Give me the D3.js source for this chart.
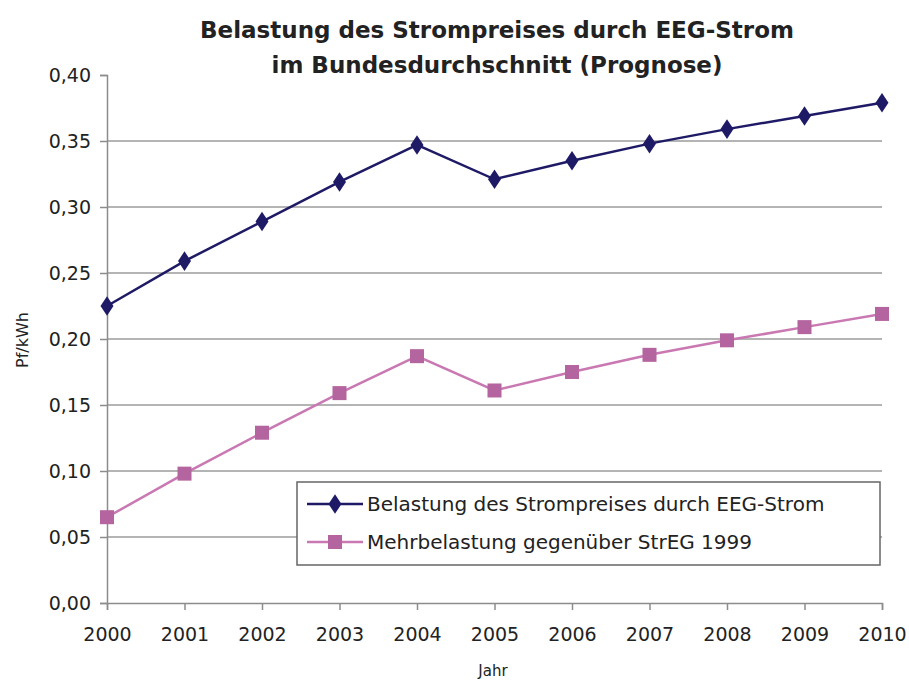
<!DOCTYPE html>
<html>
<head>
<meta charset="utf-8">
<script src="https://cdn.jsdelivr.net/npm/d3@7"></script>
<style>
  body { margin: 0; background: #fff; }
  svg text { font-family: "DejaVu Sans", sans-serif; fill: #222; }
</style>
</head>
<body>
<div id="chart"></div>
<script>
// Daten
const years = [2000, 2001, 2002, 2003, 2004, 2005, 2006, 2007, 2008, 2009, 2010];
const belastung = [0.225, 0.259, 0.289, 0.319, 0.347, 0.321, 0.335, 0.348, 0.359, 0.369, 0.379];
const mehrbelastung = [0.065, 0.098, 0.129, 0.159, 0.187, 0.161, 0.175, 0.188, 0.199, 0.209, 0.219];
const yTicks = [0, 0.05, 0.10, 0.15, 0.20, 0.25, 0.30, 0.35, 0.40];
const seriesNames = ["Belastung des Strompreises durch EEG-Strom", "Mehrbelastung gegenüber StrEG 1999"];

const width = 909, height = 681;
const margin = { left: 107, right: 27, top: 75, bottom: 78 };

const svg = d3.select("#chart").append("svg")
    .attr("width", width)
    .attr("height", height);

const x = d3.scaleLinear()
    .domain([2000, 2010])
    .range([margin.left, width - margin.right]);

const y = d3.scaleLinear()
    .domain([0, 0.4])
    .range([height - margin.bottom, margin.top]);

const fmt = d => d.toFixed(2).replace(".", ",");

// Gitterlinien (ohne oberste)
svg.append("g")
    .selectAll("line")
    .data(yTicks.filter(t => t > 0 && t < 0.4))
    .enter().append("line")
    .attr("x1", x(2000)).attr("x2", x(2010))
    .attr("y1", d => y(d)).attr("y2", d => y(d))
    .attr("stroke", "#b4b4b4")
    .attr("stroke-width", 2);

// Y-Achse
const yAxis = svg.append("g")
    .attr("transform", `translate(${margin.left},0)`)
    .call(d3.axisLeft(y).tickValues(yTicks).tickFormat(fmt).tickSize(7).tickPadding(9));
yAxis.selectAll("text").style("font-size", "19px");

// X-Achse
const xAxis = svg.append("g")
    .attr("transform", `translate(0,${height - margin.bottom})`)
    .call(d3.axisBottom(x).tickValues(years).tickFormat(d3.format("d")).tickSize(7).tickPadding(18));
xAxis.selectAll("text").style("font-size", "19px");

svg.selectAll(".domain, .tick line")
    .attr("stroke", "#8c8c8c")
    .attr("stroke-width", 1.5);

// Linien
const line = d3.line()
    .x((d, i) => x(years[i]))
    .y(d => y(d));

const blue = "#1e1a66";
const pinkLine = "#c978b2";
const pinkMark = "#b4649e";

svg.append("path")
    .datum(belastung)
    .attr("d", line)
    .attr("fill", "none")
    .attr("stroke", blue)
    .attr("stroke-width", 2.5);

svg.append("path")
    .datum(mehrbelastung)
    .attr("d", line)
    .attr("fill", "none")
    .attr("stroke", pinkLine)
    .attr("stroke-width", 2.5);

// Marker
const diamond = d3.symbol().type(d3.symbolDiamond).size(110);
svg.append("g")
    .selectAll("path")
    .data(belastung)
    .enter().append("path")
    .attr("d", diamond)
    .attr("transform", (d, i) => `translate(${x(years[i])},${y(d)}) scale(1.15,1)`)
    .attr("fill", blue);

svg.append("g")
    .selectAll("rect")
    .data(mehrbelastung)
    .enter().append("rect")
    .attr("x", (d, i) => x(years[i]) - 7)
    .attr("y", d => y(d) - 7)
    .attr("width", 14)
    .attr("height", 14)
    .attr("fill", pinkMark);

// Titel
const title = svg.append("text")
    .attr("x", 497)
    .attr("text-anchor", "middle")
    .style("font-size", "23px")
    .style("font-weight", "bold");
title.append("tspan").attr("x", 497).attr("y", 38).text("Belastung des Strompreises durch EEG-Strom");
title.append("tspan").attr("x", 497).attr("y", 73).text("im Bundesdurchschnitt (Prognose)");

// Achsentitel
svg.append("text")
    .attr("transform", "translate(28,340) rotate(-90)")
    .attr("text-anchor", "middle")
    .style("font-size", "16px")
    .text("Pf/kWh");

svg.append("text")
    .attr("x", 493)
    .attr("y", 676)
    .attr("text-anchor", "middle")
    .style("font-size", "15px")
    .text("Jahr");

// Legende
const legend = svg.append("g").attr("transform", "translate(297,482)");
legend.append("rect")
    .attr("width", 583)
    .attr("height", 83)
    .attr("fill", "#fff")
    .attr("stroke", "#666")
    .attr("stroke-width", 1.5);

const rows = [
    { name: seriesNames[0], color: blue, lineColor: blue, shape: "diamond" },
    { name: seriesNames[1], color: pinkMark, lineColor: pinkLine, shape: "square" }
];

rows.forEach((r, i) => {
    const cy = 22 + i * 38;
    legend.append("line")
        .attr("x1", 10).attr("x2", 66)
        .attr("y1", cy).attr("y2", cy)
        .attr("stroke", r.lineColor)
        .attr("stroke-width", 2.5);
    if (r.shape === "diamond") {
        legend.append("path")
            .attr("d", diamond)
            .attr("transform", `translate(38,${cy}) scale(1.15,1)`)
            .attr("fill", r.color);
    } else {
        legend.append("rect")
            .attr("x", 31).attr("y", cy - 7)
            .attr("width", 14).attr("height", 14)
            .attr("fill", r.color);
    }
    legend.append("text")
        .attr("x", 70)
        .attr("y", cy + 7)
        .style("font-size", "20px")
        .text(r.name);
});
</script>
</body>
</html>
